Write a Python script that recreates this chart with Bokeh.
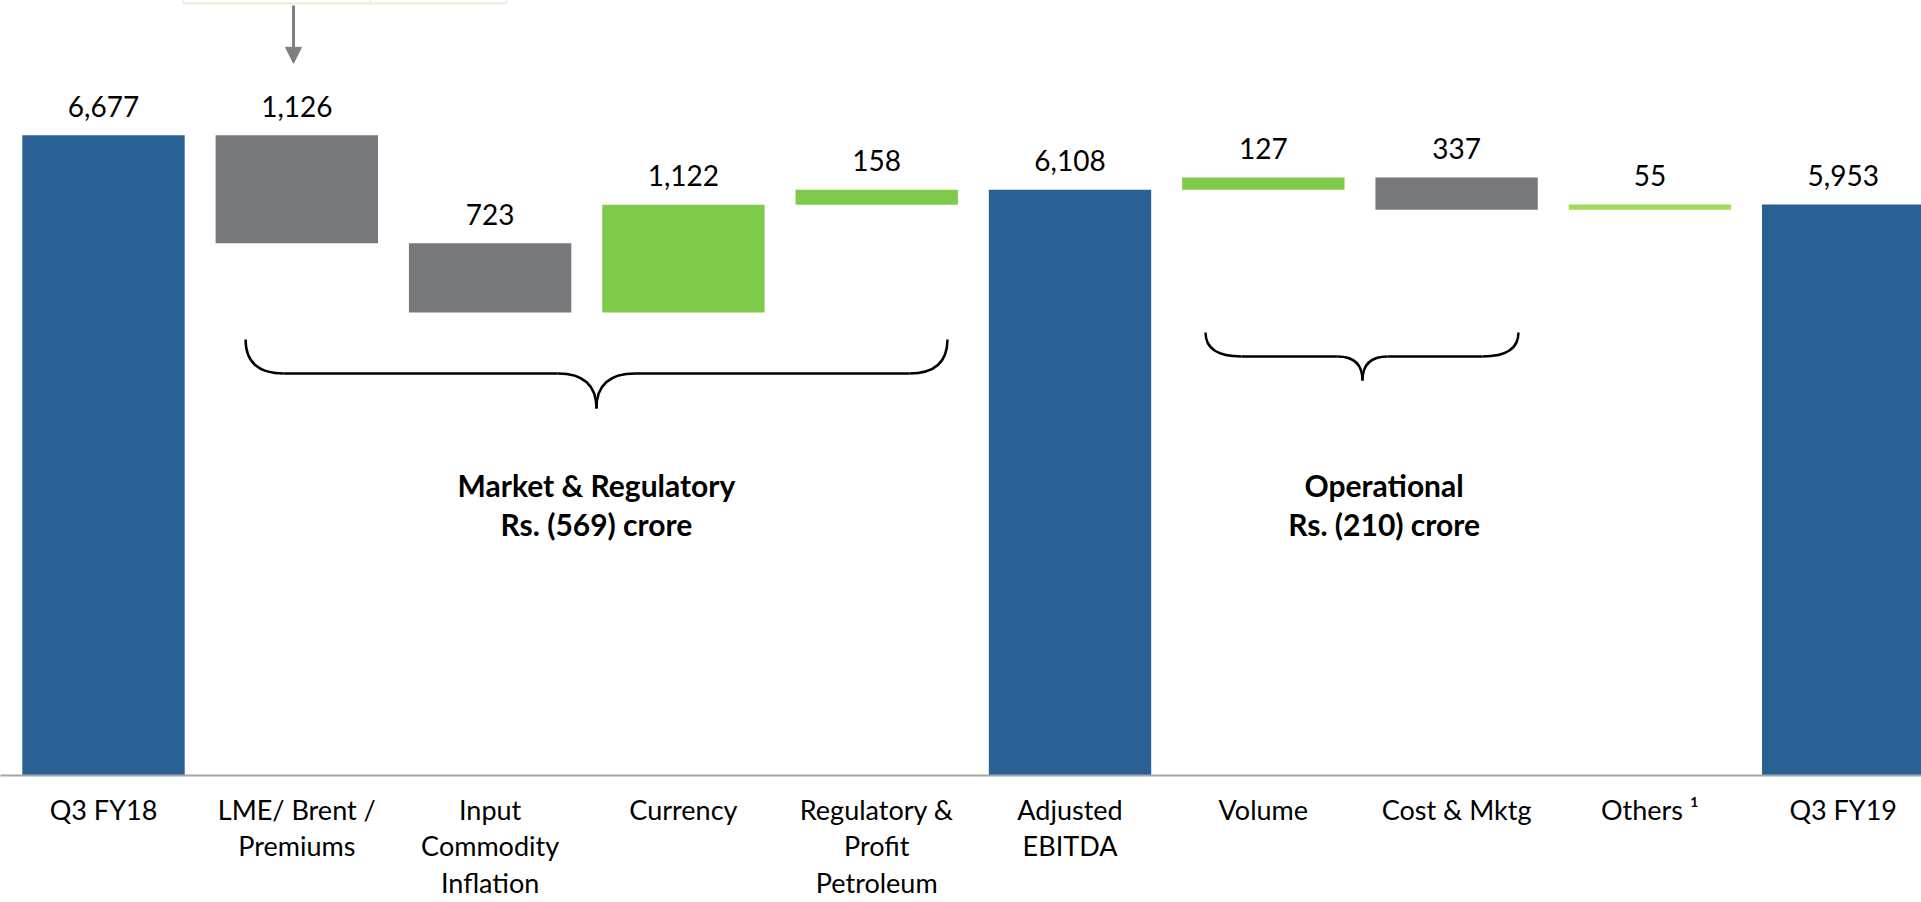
from bokeh.plotting import figure
from bokeh.models import Range1d, FixedTicker, ColumnDataSource, Arrow, NormalHead
from bokeh.core.properties import value
from bokeh.embed import file_html
from bokeh.resources import INLINE

# ---------------- data ----------------
categories = ["Q3 FY18", "LME/ Brent /\nPremiums", "Input\nCommodity\nInflation", "Currency",
              "Regulatory &\nProfit\nPetroleum", "Adjusted\nEBITDA", "Volume", "Cost & Mktg",
              "Others \u00b9", "Q3 FY19"]
values = [6677, -1126, -723, 1122, 158, 6108, 127, -337, 55, 5953]
is_total = [True, False, False, False, False, True, False, False, False, True]
value_labels = ["6,677", "1,126", "723", "1,122", "158", "6,108", "127", "337", "55", "5,953"]
group_titles = ["Market & Regulatory", "Operational"]
group_amounts = ["Rs. (569) crore", "Rs. (210) crore"]

# ---------------- style ----------------
BLUE = "#296194"
GRAY = "#77787B"
GREEN = "#7FCA4A"
LIGHT_GREEN = "#A0DC5A"
ARROW = "#7F7F7F"
BOX = "#E2EFD9"
FONT = "Lato"
bar_colors = [BLUE, GRAY, GRAY, GREEN, GREEN, BLUE, GREEN, GRAY, LIGHT_GREEN, BLUE]

# waterfall geometry computed from values
bottoms, tops = [], []
run = 0
for v, t in zip(values, is_total):
    if t:
        bottoms.append(0)
        tops.append(v)
        run = v
    else:
        new = run + v
        bottoms.append(min(run, new))
        tops.append(max(run, new))
        run = new

xs = list(range(len(categories)))
src = ColumnDataSource(dict(x=xs, bottom=bottoms, top=tops, color=bar_colors, label=value_labels))

W, H = 1921, 902
p = figure(width=W, height=H, output_backend="svg", toolbar_location=None,
           x_range=Range1d(-0.5329, 9.405), y_range=Range1d(0, 8081),
           min_border_left=0, min_border_right=0, min_border_top=0, min_border_bottom=125)
p.outline_line_color = None
p.grid.visible = False
p.yaxis.visible = False
p.background_fill_color = "white"

ax = p.xaxis[0]
ax.ticker = FixedTicker(ticks=xs)
ax.major_label_overrides = {i: c for i, c in enumerate(categories)}
ax.major_tick_line_color = None
ax.minor_tick_line_color = None
ax.major_tick_in = 0
ax.major_tick_out = 0
ax.axis_line_color = "#A6A6A6"
ax.axis_line_width = 2
ax.major_label_text_font = FONT
ax.major_label_text_font_size = "27px"
ax.major_label_text_color = "#000000"
ax.major_label_text_line_height = 1.12
ax.major_label_standoff = 17

# partially visible box at the top edge, with the arrow pointing to the LME bar
p.quad(left=[0.414], right=[2.085], bottom=[8050], top=[8300],
       fill_color=None, line_color=BOX, line_width=2)
p.segment(x0=[1.381], y0=[8050], x1=[1.381], y1=[8300], line_color=BOX, line_width=2)

p.vbar(x="x", width=0.84, bottom="bottom", top="top", fill_color="color",
       line_color=None, source=src)

p.text(x="x", y="top", text="label", source=src, text_font=value(FONT),
       text_font_size="28px", text_align="center", text_baseline="alphabetic",
       y_offset=-29, text_color="#000000")

# group braces (annotation shapes)
def brace(x0, x1, xm, y_top, y_mid, y_tip, cdx, mdx):
    p.quadratic(x0=[x0, xm - mdx, xm + mdx, x1],
                y0=[y_top, y_mid, y_mid, y_top],
                x1=[x0 + cdx, xm, xm, x1 - cdx],
                y1=[y_mid, y_tip, y_tip, y_mid],
                cx=[x0, xm, xm, x1],
                cy=[y_mid, y_mid, y_mid, y_mid],
                line_color="black", line_width=2.5)
    p.segment(x0=[x0 + cdx, xm + mdx], y0=[y_mid, y_mid],
              x1=[xm - mdx, x1 - cdx], y1=[y_mid, y_mid],
              line_color="black", line_width=2.5)

brace(0.735, 4.366, 2.55, 4545, 4191, 3827, 0.197, 0.2)
brace(5.701, 7.320, 6.513, 4618, 4368, 4118, 0.186, 0.13)

gsrc = ColumnDataSource(dict(
    x=[2.55, 2.55, 6.625, 6.625],
    y=[3026, 2621, 3026, 2621],
    t=[group_titles[0], group_amounts[0], group_titles[1], group_amounts[1]]))
p.text(x="x", y="y", text="t", source=gsrc, text_font=value(FONT),
       text_font_size="30px", text_font_style="bold", text_align="center",
       text_baseline="alphabetic", text_color="#000000")

p.add_layout(Arrow(end=NormalHead(size=16, fill_color=ARROW, line_color=ARROW),
                   x_start=0.983, y_start=8029, x_end=0.983, y_end=7426,
                   line_color=ARROW, line_width=3))

open("out.html", "w").write(file_html(p, INLINE))
